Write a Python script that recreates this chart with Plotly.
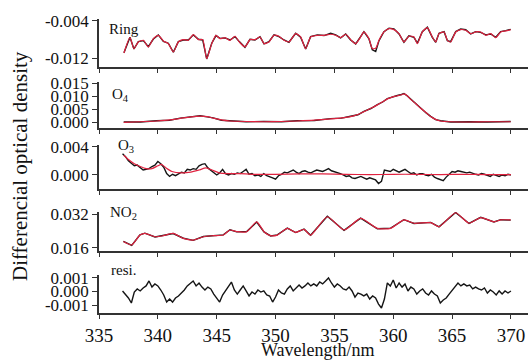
import numpy as np
import plotly.graph_objects as go

# ---------------- data ----------------
# Ring
ring_wl = [337.12, 337.63, 337.97, 338.34, 338.77, 339.19, 339.62, 340.04, 340.47, 340.89,
           341.32, 341.74, 342.17, 342.59, 343.02, 343.45, 343.81, 344.15, 344.58, 344.94,
           345.28, 345.71, 346.13, 346.55, 346.92, 347.40, 347.83, 348.25, 348.68, 349.02,
           349.44, 349.87, 350.29, 350.72, 351.14, 351.71, 352.13, 352.56, 352.98, 353.55,
           354.12, 354.68, 355.11, 355.53, 355.96, 356.38, 356.81, 357.23, 357.51, 357.94,
           358.22, 358.51, 358.79, 359.21, 359.64, 360.06, 360.49, 360.91, 361.33, 361.76,
           362.05, 362.47, 362.90, 363.32, 363.61, 363.89, 364.32, 364.60, 364.88, 365.31,
           365.73, 366.16, 366.58, 367.01, 367.43, 367.86, 368.28, 368.71, 369.13, 369.56, 369.98]
ring_fit = [-0.01091, -0.00759, -0.00997, -0.00853, -0.00817, -0.00961, -0.00781, -0.00709, -0.00831, -0.00889,
            -0.01069, -0.00853, -0.00802, -0.00817, -0.00694, -0.00802, -0.00802, -0.01213, -0.00889, -0.00709,
            -0.00781, -0.00759, -0.00817, -0.00730, -0.00853, -0.00961, -0.00802, -0.00802, -0.00745, -0.00889,
            -0.00853, -0.00709, -0.00730, -0.00817, -0.00853, -0.00673, -0.00745, -0.00997, -0.00745, -0.00709,
            -0.00709, -0.00687, -0.00709, -0.00759, -0.00687, -0.00802, -0.00889, -0.00745, -0.00637, -0.00781,
            -0.00997, -0.00990, -0.00817, -0.00637, -0.00565, -0.00586, -0.00673, -0.00853, -0.00730, -0.00745,
            -0.00889, -0.00637, -0.00543, -0.00745, -0.00853, -0.00673, -0.00637, -0.00817, -0.00853, -0.00637,
            -0.00586, -0.00601, -0.00673, -0.00637, -0.00637, -0.00709, -0.00673, -0.00759, -0.00637, -0.00615, -0.00586]
ring_meas = [-0.01085, -0.00750, -0.01005, -0.00845, -0.00825, -0.00955, -0.00790, -0.00700, -0.00840, -0.00880,
             -0.01075, -0.00845, -0.00810, -0.00810, -0.00700, -0.00795, -0.00810, -0.01220, -0.00880, -0.00715,
             -0.00775, -0.00765, -0.00810, -0.00738, -0.00845, -0.00968, -0.00795, -0.00810, -0.00738, -0.00895,
             -0.00845, -0.00700, -0.00738, -0.00810, -0.00860, -0.00665, -0.00752, -0.01005, -0.00738, -0.00700,
             -0.00715, -0.00665, -0.00700, -0.00766, -0.00680, -0.00810, -0.00895, -0.00738, -0.00630, -0.00788,
             -0.01020, -0.01060, -0.00825, -0.00630, -0.00555, -0.00570, -0.00680, -0.00860, -0.00722, -0.00752,
             -0.00880, -0.00630, -0.00535, -0.00752, -0.00860, -0.00665, -0.00630, -0.00825, -0.00845, -0.00630,
             -0.00575, -0.00590, -0.00680, -0.00630, -0.00645, -0.00700, -0.00680, -0.00752, -0.00630, -0.00608, -0.00580]

# O4
o4_wl = [337.1, 338.5, 339.9, 341.0, 341.9, 342.8, 343.6, 344.2, 344.7, 345.4,
         346.1, 347.5, 349.0, 350.5, 351.85, 353.3, 354.68, 355.6, 356.38, 357.0,
         357.51, 358.1, 358.65, 359.1, 359.5, 359.9, 360.35, 360.7, 360.91, 361.2,
         361.48, 361.9, 362.33, 362.8, 363.18, 363.6, 364.03, 364.88, 366.5, 368.0, 369.98]
o4_fit = [0.0000, 0.0002, 0.0005, 0.0009, 0.0015, 0.0021, 0.0024, 0.0022, 0.0016, 0.0009,
          0.0005, 0.0003, 0.0002, 0.0003, 0.0005, 0.0008, 0.0013, 0.0017, 0.0022, 0.0030,
          0.0041, 0.0054, 0.0067, 0.0079, 0.0090, 0.0097, 0.0102, 0.0106, 0.0109, 0.0102,
          0.0088, 0.0072, 0.0054, 0.0037, 0.0022, 0.0011, 0.0005, 0.0002, 0.0001, 0.0002, 0.0002]
o4_meas = [0.0001, 0.0001, 0.0006, 0.0008, 0.0016, 0.0020, 0.0025, 0.0021, 0.0017, 0.0008,
           0.0006, 0.0002, 0.0003, 0.0002, 0.0006, 0.0007, 0.0014, 0.0016, 0.0023, 0.0029,
           0.0042, 0.0053, 0.0068, 0.0078, 0.0091, 0.0098, 0.0103, 0.0107, 0.0111, 0.0101,
           0.0089, 0.0071, 0.0055, 0.0036, 0.0023, 0.0010, 0.0006, 0.0001, 0.0002, 0.0001, 0.0003]

# O3
o3_fit_wl = [337.1, 337.5, 338.0, 338.5, 339.0, 339.5, 340.0, 340.3, 340.7, 341.2,
             342.0, 342.8, 343.5, 344.1, 344.6, 345.2, 346.0, 347.0, 348.0, 350.0,
             352.0, 354.0, 356.0, 358.0, 360.0, 362.0, 364.0, 366.0, 368.0, 370.0]
o3_fit = [0.0028, 0.0022, 0.0016, 0.0012, 0.0009, 0.0009, 0.0013, 0.0015, 0.0010, 0.0005,
          0.0003, 0.0004, 0.0007, 0.0010, 0.0007, 0.0003, 0.0002, 0.0002, 0.0001, 0.0001,
          0.00015, 0.00015, 0.0001, 0.00005, 0.0001, 0.0001, 0.00005, 0.0001, 0.00005, 0.00005]
o3_meas = [
    0.0030, 0.0026, 0.0020, 0.0016,    # 337
    0.0013, 0.0014, 0.0011, 0.0007,    # 338
    0.0008, 0.0009, 0.0012, 0.0014,    # 339
    0.0019, 0.0016, 0.0011, 0.0002,    # 340
    -0.0002, 0.0001, -0.0001, 0.0002,  # 341
    0.0004, 0.0003, 0.0008, 0.0007,    # 342
    0.0009, 0.0008, 0.0013, 0.0015,    # 343
    0.0016, 0.0010, 0.0007, 0.0004,    # 344
    0.0000, 0.0003, 0.0008, 0.0002,    # 345
    0.0000, 0.0002, 0.0001, 0.0003,    # 346
    0.0002, 0.0005, 0.0008, 0.0001,    # 347
    0.0002, -0.0001, 0.0000, -0.0002,  # 348
    0.0002, -0.0001, -0.0002, -0.0004, # 349
    -0.0006, -0.0001, 0.0001, 0.0004,  # 350
    0.0003, 0.0005, 0.0007, 0.0004,    # 351
    0.0002, 0.0005, 0.0006, 0.0004,    # 352
    0.0003, 0.0005, 0.0007, 0.0006,    # 353
    0.0005, 0.0007, 0.0009, 0.0006,    # 354
    0.0005, 0.0004, 0.0002, 0.0000,    # 355
    -0.0002, -0.0001, -0.0004, -0.0005,# 356
    -0.0003, -0.0002, -0.0004, -0.0006,# 357
    -0.0004, -0.0005, -0.0007, -0.0012,# 358
    -0.0009, 0.0007, 0.0006, 0.0005,   # 359
    0.0008, 0.0006, 0.0004, 0.0006,    # 360
    0.0008, 0.0005, 0.0002, 0.0003,    # 361
    0.0000, 0.0002, 0.0002, 0.0000,    # 362
    -0.0001, 0.0001, -0.0003, -0.0005, # 363
    -0.0007, -0.0008, -0.0003, 0.0001, # 364
    0.0005, 0.0004, 0.0006, 0.0005,    # 365
    0.0004, 0.0003, 0.0004, 0.0002,    # 366
    0.0001, 0.0000, 0.0002, 0.0001,    # 367
    -0.0001, -0.0002, 0.0001, 0.0000,  # 368
    -0.0002, 0.0000, -0.0001, 0.0001,  # 369
    0.0000,                            # 370
]

# NO2
no2_wl = [337.07, 337.78, 338.48, 338.9, 339.76, 340.47, 341.3, 342.17, 343.0, 343.87,
          344.72, 345.56, 346.13, 346.7, 347.55, 348.4, 349.02, 349.58, 350.15, 351.0,
          351.71, 352.42, 352.98, 354.4, 355.82, 357.23, 358.65, 359.78, 360.91, 361.76,
          363.18, 363.89, 365.3, 366.44, 367.43, 368.56, 369.13, 369.98]
no2_fit = [0.0189, 0.0173, 0.0220, 0.0228, 0.0212, 0.0217, 0.0228, 0.0204, 0.0196, 0.0212,
           0.0217, 0.0220, 0.0244, 0.0236, 0.0236, 0.0283, 0.0236, 0.0217, 0.0220, 0.0252,
           0.0233, 0.0247, 0.0220, 0.0307, 0.0244, 0.0299, 0.0252, 0.0252, 0.0292, 0.0276,
           0.0279, 0.0260, 0.0326, 0.0276, 0.0303, 0.0283, 0.0292, 0.0292]
no2_meas = [0.0190, 0.0171, 0.0221, 0.0229, 0.0211, 0.0218, 0.0227, 0.0205, 0.0195, 0.0213,
            0.0216, 0.0221, 0.0245, 0.0235, 0.0237, 0.0282, 0.0235, 0.0216, 0.0221, 0.0253,
            0.0232, 0.0248, 0.0219, 0.0309, 0.0242, 0.0300, 0.0250, 0.0253, 0.0293, 0.0275,
            0.0280, 0.0259, 0.0327, 0.0275, 0.0304, 0.0282, 0.0293, 0.0291]

# residual
resi = [
    0.00004, -0.00019, -0.00048, -0.00085,  # 337
    -0.00004, 0.00019, 0.00004, 0.00026,    # 338
    0.00041, 0.00078, 0.00033, 0.00056,     # 339
    0.00041, 0.00011, -0.00026, -0.00078,   # 340
    -0.00056, -0.00078, -0.00048, -0.00033, # 341
    -0.00011, 0.00011, 0.00041, 0.00063,    # 342
    0.00078, 0.00041, 0.00063, 0.00033,     # 343
    0.00011, 0.00033, 0.00019, -0.00019,    # 344
    -0.00048, -0.00078, -0.00026, 0.00004,  # 345
    0.00041, 0.00070, 0.00011, -0.00019,    # 346
    0.00011, 0.00041, 0.00004, -0.00033,    # 347
    -0.00004, -0.00019, 0.00011, -0.00004,  # 348
    0.00004, -0.00026, -0.00033, -0.00078,  # 349
    -0.00041, 0.00011, -0.00011, -0.00019,  # 350
    0.00019, 0.00041, 0.00004, 0.00026,     # 351
    0.00048, 0.00026, 0.00041, 0.00063,     # 352
    0.00041, 0.00056, 0.00041, 0.00070,     # 353
    0.00056, 0.00078, 0.00100, 0.00063,     # 354
    0.00033, 0.00056, 0.00041, 0.00019,     # 355
    0.00011, 0.00033, 0.00004, -0.00041,    # 356
    -0.00011, -0.00019, -0.00033, -0.00019, # 357
    -0.00056, -0.00033, -0.00048, -0.00093, # 358
    -0.00122, -0.00056, 0.00063, 0.00041,   # 359
    0.00085, 0.00026, 0.00063, 0.00033,     # 360
    0.00056, 0.00004, 0.00033, 0.00019,     # 361
    -0.00019, 0.00004, 0.00019, -0.00011,   # 362
    -0.00026, 0.00004, -0.00019, -0.00033,  # 363
    -0.00085, -0.00063, -0.00048, -0.00019, # 364
    0.00011, 0.00041, 0.00063, 0.00041,     # 365
    0.00056, 0.00041, 0.00048, 0.00019,     # 366
    0.00033, 0.00019, 0.00011, 0.00026,     # 367
    -0.00011, 0.00011, -0.00004, -0.00026,  # 368
    0.00004, -0.00019, 0.00004, -0.00011,   # 369
    0.00004,                                # 370
]
grid_wl = np.round(np.arange(337.0, 370.001, 0.25), 2)

x_ticks = [335, 340, 345, 350, 355, 360, 365, 370]
panel_labels = ["Ring", "O<sub>4</sub>", "O<sub>3</sub>", "NO<sub>2</sub>", "resi."]
y_tickvals = [[-0.004, -0.012], [0.0, 0.005, 0.010, 0.015], [0.0, 0.004], [0.016, 0.032], [-0.001, 0.0, 0.001]]
y_ticktext = [["-0.004", "-0.012"], ["0.000", "0.005", "0.010", "0.015"], ["0.000", "0.004"],
              ["0.016", "0.032"], ["-0.001", "0.000", "0.001"]]

# ---------------- layout helpers ----------------
W, H = 528, 360
L = 99
RED = "#e0223f"
BLK = "#151515"
FONT = "Liberation Serif"

# pixel top / bottom of each panel, and value range
panels_px = [(19, 67), (82, 128), (145, 189), (212, 251), (275, 313)]
ranges = [[-0.01394, -0.00357], [-0.0022, 0.0155], [-0.00198, 0.00424], [0.01443, 0.03295], [-0.00159, 0.00122]]


def py(p):
    return 1 - p / H


fig = go.Figure()

series = [
    (ring_wl, ring_meas, ring_wl, ring_fit),
    (o4_wl, o4_meas, o4_wl, o4_fit),
    (grid_wl, o3_meas, o3_fit_wl, o3_fit),
    (no2_wl, no2_meas, no2_wl, no2_fit),
    (grid_wl, resi, None, None),
]

for i, (xm, ym, xf, yf) in enumerate(series):
    ax = "" if i == 0 else str(i + 1)
    fig.add_trace(go.Scatter(x=xm, y=ym, mode="lines", line=dict(color=BLK, width=1.4),
                             xaxis="x" + ax, yaxis="y" + ax, showlegend=False, hoverinfo="skip"))
    if xf is not None:
        fig.add_trace(go.Scatter(x=xf, y=yf, mode="lines",
                                 line=dict(color=RED, width=1.2, shape="spline", smoothing=0.6),
                                 xaxis="x" + ax, yaxis="y" + ax, showlegend=False, hoverinfo="skip"))

layout = dict(
    width=W, height=H,
    margin=dict(l=L, r=0, t=0, b=0, autoexpand=False),
    paper_bgcolor="white", plot_bgcolor="white",
    font=dict(family=FONT, color="#111", size=15),
    showlegend=False,
)

for i in range(5):
    ax = "" if i == 0 else str(i + 1)
    top, bot = panels_px[i]
    layout["xaxis" + ax] = dict(
        domain=[0, 1], range=[335, 371.45], anchor="y" + ax, automargin=False,
        tickvals=x_ticks, ticks="outside", ticklen=4, tickwidth=1.3, tickcolor="#333",
        showline=True, linecolor="#333", linewidth=1.5, showgrid=False, zeroline=False,
        showticklabels=(i == 4), tickfont=dict(family=FONT, size=19, color="#111"),
        matches=None if i == 0 else "x",
    )
    layout["yaxis" + ax] = dict(
        domain=[py(bot), py(top)], range=ranges[i], anchor="x" + ax, automargin=False,
        tickvals=y_tickvals[i], ticktext=y_ticktext[i],
        ticks="outside", ticklen=5, tickwidth=1.3, tickcolor="#333",
        showline=True, linecolor="#333", linewidth=1.5, showgrid=False, zeroline=False,
        tickfont=dict(family=FONT, size=17, color="#111"),
    )
fig.update_layout(**layout)

label_px = [(107, 29), (110, 95), (116, 146), (108, 213), (109, 270)]
for (lx, ly), txt in zip(label_px, panel_labels):
    fig.add_annotation(text=txt, xref="paper", yref="paper", x=(lx - L) / (W - L), y=py(ly),
                       xanchor="left", yanchor="middle", showarrow=False,
                       font=dict(family=FONT, size=15, color="#111"))

fig.add_annotation(text="Wavelength/nm", xref="paper", yref="paper",
                   x=(318 - L) / (W - L), y=py(350), xanchor="center", yanchor="middle",
                   showarrow=False, font=dict(family=FONT, size=18, color="#111"))

fig.add_annotation(text="Differencial optical density", xref="paper", yref="paper",
                   x=(20 - L) / (W - L), y=py(166), xanchor="center", yanchor="middle",
                   textangle=-90, showarrow=False, font=dict(family=FONT, size=21, color="#111"))

fig.write_html("out.html", config={"displayModeBar": False},
               post_script="document.body.style.margin='0';")
